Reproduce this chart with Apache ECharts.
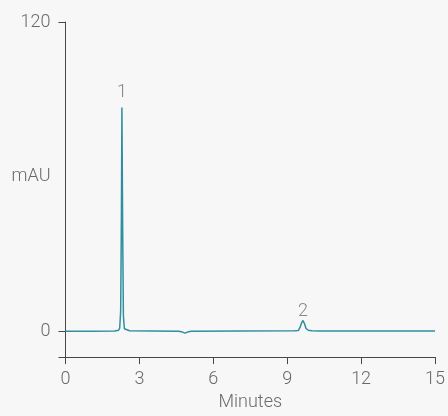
<!DOCTYPE html>
<html>
<head>
<meta charset="utf-8">
<script src="https://cdn.jsdelivr.net/npm/echarts@6/dist/echarts.min.js"></script>
<style>
  html, body { margin: 0; padding: 0; background: #f7f7f7; }
  #chart { width: 448px; height: 416px; }
</style>
</head>
<body>
<div id="chart"></div>
<script>
// Chromatogram trace (minutes, mAU)
const traceTimes = [0, 1.0, 2.0, 2.15, 2.2, 2.24, 2.27, 2.29, 2.32, 2.35, 2.39, 2.45, 2.6, 3.5, 4.6, 4.75, 4.85, 4.95, 5.1, 7.0, 9.3, 9.45, 9.52, 9.58, 9.64, 9.70, 9.76, 9.85, 10.0, 10.3, 12.0, 15.0];
const traceValues = [0, 0, 0.1, 0.4, 1.2, 8, 45, 86.8, 40, 6, 1.0, 0.3, 0.2, 0.1, 0.0, -0.3, -0.7, -0.3, 0.0, 0.1, 0.2, 0.3, 1.5, 3.2, 4.2, 3.0, 1.2, 0.4, 0.2, 0.1, 0.1, 0.1];

// Peak annotations
const peakNames = ['1', '2'];
const peakTimes = [2.29, 9.64];
const peakHeights = [86.8, 4.2];

// Axis ticks / labels
const xTicks = [0, 3, 6, 9, 12, 15];
const yTickValues = [-10, 0, 120];
const yLabelValues = [0, 60, 120];
const yTitleValue = 60;
const yTitle = 'mAU';
const xTitle = 'Minutes';

const textColor = '#6a6a6a';
const axisColor = '#474747';
const fontFamily = 'Roboto, "Liberation Sans", Arial, sans-serif';
const fontWeight = 300;

const chart = echarts.init(document.getElementById('chart'));

const peakLabelDistances = [6, 0];

chart.setOption({
  backgroundColor: '#f7f7f7',
  animation: false,
  grid: { left: 65.5, right: 11, top: 22, bottom: 56, containLabel: false },
  xAxis: {
    type: 'value',
    min: xTicks[0],
    max: xTicks[xTicks.length - 1],
    interval: 3,
    name: xTitle,
    nameLocation: 'middle',
    nameGap: 35,
    nameTextStyle: { color: textColor, fontSize: 18, fontFamily: fontFamily, fontWeight: fontWeight },
    axisLine: { onZero: false, lineStyle: { color: axisColor, width: 1 } },
    axisTick: { length: 7, lineStyle: { color: axisColor } },
    axisLabel: { color: textColor, fontSize: 18, fontFamily: fontFamily, fontWeight: fontWeight, margin: 13 },
    splitLine: { show: false }
  },
  yAxis: {
    type: 'value',
    min: -10,
    max: 120,
    axisLine: { show: true, lineStyle: { color: axisColor, width: 1 } },
    axisTick: { show: true, length: 7, customValues: yTickValues, lineStyle: { color: axisColor } },
    axisLabel: {
      color: textColor, fontSize: 18, fontFamily: fontFamily, fontWeight: fontWeight, margin: 15,
      customValues: yLabelValues,
      formatter: function (v) { return v === yTitleValue ? yTitle : String(v); }
    },
    splitLine: { show: false }
  },
  series: [
    {
      type: 'line',
      data: traceTimes.map((t, i) => [t, traceValues[i]]),
      showSymbol: false,
      symbol: 'none',
      lineStyle: { color: '#2f8ea0', width: 1.5 },
      z: 3
    },
    {
      type: 'scatter',
      symbolSize: 0,
      data: peakTimes.map((t, i) => ({
        value: [t, peakHeights[i]],
        name: peakNames[i],
        label: { distance: peakLabelDistances[i] }
      })),
      label: {
        show: true,
        position: 'top',
        formatter: p => p.name,
        color: textColor,
        fontSize: 18,
        fontFamily: fontFamily,
        fontWeight: fontWeight
      },
      silent: true
    }
  ]
});
</script>
</body>
</html>
